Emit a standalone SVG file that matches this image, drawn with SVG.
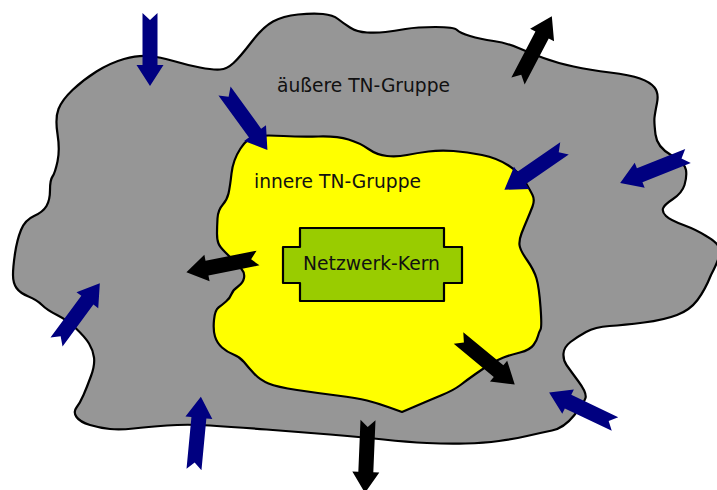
<svg xmlns="http://www.w3.org/2000/svg" xmlns:xlink="http://www.w3.org/1999/xlink" width="717" height="490" viewBox="0 0 717 490">
<style>
.blob{stroke:#000;stroke-width:2.2;stroke-linejoin:round}
.in{fill:#000080}
.out{fill:#000}
</style>
<defs>
<path id="arr" d="M0,-7.5 L52,-7.5 L52,-13.5 L73,0 L52,13.5 L52,7.5 L0,7.5 L7,0 Z"/>
</defs>
<rect width="717" height="490" fill="#fff"/>
<g id="outer-group">
<path class="blob" fill="#969696" d="M57.5,134 Q55,118 58.5,109 Q62,100 72.5,90 Q83,80 96.5,71.5 Q110,63 124,59 Q138,55 149,56 Q160,57 173.5,61 Q187,65 200,67.5 Q213,70 220,69.5 Q227,69 233.5,63 Q240,57 251.5,42 Q263,27 273,21.5 Q283,16 298,14.5 Q313,13 323,14 Q333,15 338,19 Q343,23 350,27.5 Q357,32 367,32.5 Q377,33 385.5,32 Q394,31 405.5,29 Q417,27 435.5,27 Q454,27 457,30 Q460,33 470,36 Q480,39 493.5,41 Q507,43 518.5,48 Q530,53 543.5,58 Q557,63 573.5,66.5 Q590,70 610,72.5 Q630,75 640,78.5 Q650,82 654.5,87.5 Q659,93 657,103 Q655,113 654.5,117.5 Q654,122 655.5,134.5 Q657,147 671,155 Q685,163 686,170 Q687,177 684.5,185 Q682,193 673,199 Q664,205 663,208.5 Q662,212 666,216 Q670,220 683.5,225 Q697,230 707,236.5 Q720,244 720,251 Q720,258 711,275 Q705,290 697.5,300 Q690,310 677,315 Q664,320 644,322.5 Q624,325 609.5,326 Q595,327 586,332 Q577,337 570.5,342 Q564,347 563.5,353.5 Q563,360 566.5,365 Q570,370 578.5,381.5 Q587,393 585.5,398 Q584,403 574,415.5 Q564,428 552,430.5 Q540,433 527,436 Q514,439 499,441 Q484,443 465.5,443.5 Q447,444 427,443 Q407,442 383.5,439.5 Q360,437 330,434.5 Q300,432 266.5,429.5 Q233,427 210,425.5 Q187,424 167,425.5 Q147,427 133.5,428.5 Q120,430 110,429 Q100,428 90,425 Q80,422 76.5,417 Q73,412 76.5,407.5 Q80,403 83.5,395 Q87,387 91,376 Q95,365 94,357.5 Q93,350 89,343.5 Q85,337 76,328.5 Q67,320 57,315 Q47,310 42,305 Q37,300 28.5,296.5 Q20,293 16.5,288 Q13,283 13,275 Q13,267 15,253.5 Q17,240 21,230 Q25,220 34,216 Q43,212 46.5,206 Q50,200 50,190 Q50,180 52.5,176.5 Q55,173 57.5,161.5 Q60,150 57.5,134 Z"/>
<text x="277" y="92" font-family="DejaVu Sans, Liberation Sans, sans-serif" font-size="20" fill="#111" textLength="173" lengthAdjust="spacingAndGlyphs">äußere TN-Gruppe</text>
</g>
<g id="inner-group">
<path class="blob" fill="#ffff00" d="M240.5,148.5 Q248,137 257.5,136 Q267,135 283.5,136 Q300,137 318.5,136.5 Q337,136 348.5,139.5 Q360,143 368.5,149 Q377,155 387,156 Q397,157 407,155 Q417,153 428.5,151.5 Q440,150 453.5,151 Q467,152 482,155 Q497,158 508.5,165.5 Q520,173 525,181.5 Q530,190 532.5,195 Q535,200 532.5,206.5 Q530,213 527,220 Q524,227 521.5,233.5 Q519,240 519.5,245 Q520,250 527,260 Q534,270 536.5,278.5 Q539,287 540.5,307 Q542,327 540.5,329.5 Q539,332 538,336 Q537,340 533.5,345 Q530,350 520,352.5 Q510,355 503.5,357.5 Q497,360 490.5,364 Q484,368 475.5,374 Q467,380 460.5,385 Q454,390 442,395 Q430,400 416,406 L402,412 L389.5,407.5 Q377,403 367,400.5 Q357,398 337,395.5 Q317,393 297,390 Q277,387 268.5,383.5 Q260,380 254,373.5 Q248,367 244,362 Q240,357 233.5,354.5 Q227,352 222,347.5 Q217,343 215,336.5 Q213,330 214,320 Q215,310 218.5,307.5 Q222,305 226,301.5 Q230,298 231.5,294 Q233,290 238,286.5 Q243,283 244,278 Q245,273 241.5,269 Q238,265 234,261 Q230,257 225,252 Q220,247 218.5,243.5 Q217,240 217,233.5 Q217,227 217.5,218.5 Q218,210 222.5,205 Q227,200 228.5,193.5 Q230,187 231.5,173.5 Q233,160 240.5,148.5 Z"/>
<text x="254" y="188" font-family="DejaVu Sans, Liberation Sans, sans-serif" font-size="20" fill="#111" textLength="167" lengthAdjust="spacingAndGlyphs">innere TN-Gruppe</text>
</g>
<g id="core">
<path class="blob" fill="#99cc00" d="M300,228 H444 V247 H462 V283 H444 V301 H300 V283 H283 V247 H300 Z"/>
<text x="303" y="270" font-family="DejaVu Sans, Liberation Sans, sans-serif" font-size="20" fill="#111" textLength="137" lengthAdjust="spacingAndGlyphs">Netzwerk-Kern</text>
</g>
<g id="connectors">
<use xlink:href="#arr" class="in" transform="translate(150,13) rotate(90)"/>
<use xlink:href="#arr" class="in" transform="translate(224.5,91) rotate(54)"/>
<use xlink:href="#arr" class="out" transform="translate(518,81) rotate(-62.4)"/>
<use xlink:href="#arr" class="in" transform="translate(564.5,148.3) rotate(145.4)"/>
<use xlink:href="#arr" class="in" transform="translate(688,156) rotate(158.3)"/>
<use xlink:href="#arr" class="out" transform="translate(258,258) rotate(168.8)"/>
<use xlink:href="#arr" class="in" transform="translate(56.5,342) rotate(-53.6)"/>
<use xlink:href="#arr" class="in" transform="translate(194,469.5) rotate(-84.6)"/>
<use xlink:href="#arr" class="out" transform="translate(368,420) rotate(92.4)"/>
<use xlink:href="#arr" class="out" transform="translate(458.5,338) rotate(39.6)"/>
<use xlink:href="#arr" class="in" transform="translate(615,424) rotate(205.5)"/>
</g>
</svg>
